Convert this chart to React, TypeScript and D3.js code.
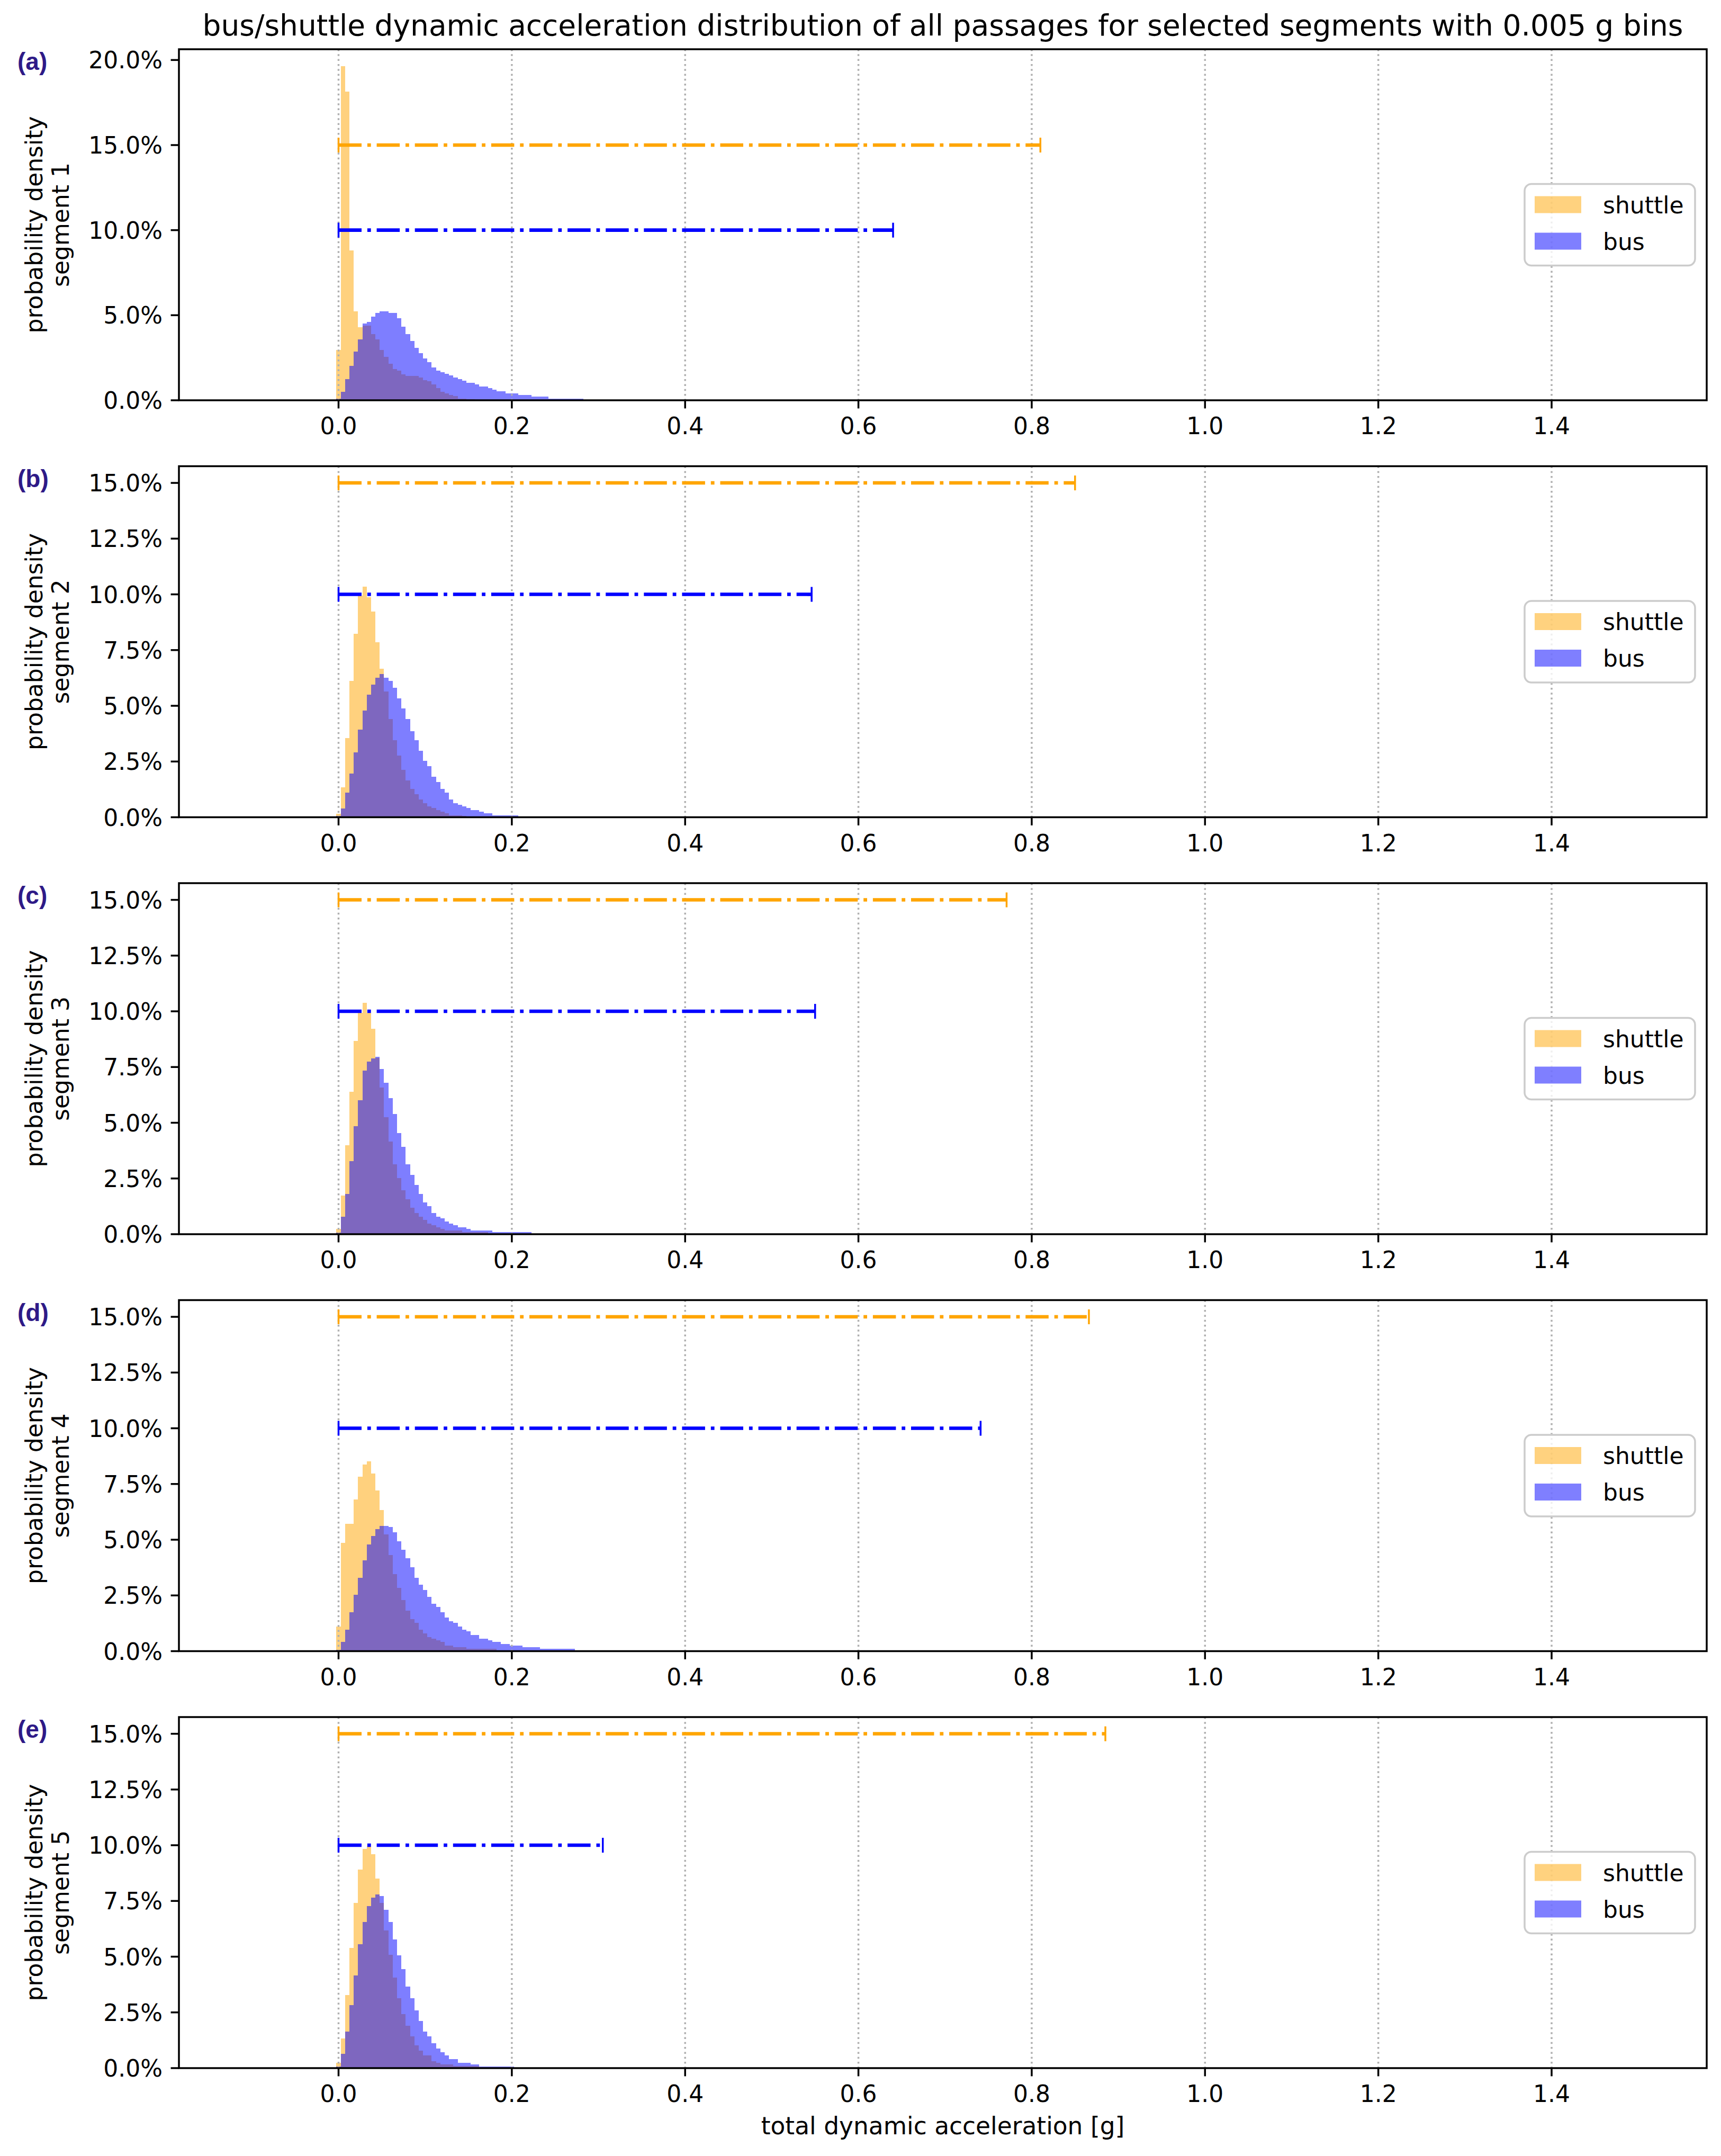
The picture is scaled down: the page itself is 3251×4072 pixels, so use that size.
import * as d3 from 'd3';
import React from 'react';

const W = 3251;
const H = 4072;

// bin centres are k * 0.005 g, values in percent
const binWidth = 0.005;
const xTicks = [0, 0.2, 0.4, 0.6, 0.8, 1.0, 1.2, 1.4];
const yTicksFirst = [0, 5, 10, 15, 20];
const yTicksOther = [0, 2.5, 5, 7.5, 10, 12.5, 15];
const panelLabels = ['(a)', '(b)', '(c)', '(d)', '(e)'];
const seriesNames = ['shuttle', 'bus'];

const shuttleSeg1 = [2.97, 19.65, 18.15, 8.8, 5.22, 4.3, 4.4, 4.4, 3.9, 3.59, 2.97, 2.56, 2.15, 1.85, 1.74, 1.54, 1.44, 1.44, 1.43, 1.33, 1.18, 1.12, 0.92, 0.72, 0.51, 0.41, 0.3, 0.25, 0.1, 0.08, 0.05, 0.05, 0.04, 0.03, 0.03, 0.02, 0.02, 0.02];
const busSeg1 = [0.1, 0.5, 1.23, 2.03, 2.87, 3.59, 4.5, 4.61, 4.93, 5.14, 5.24, 5.24, 5.14, 5.14, 4.82, 4.32, 3.9, 3.49, 3.08, 2.77, 2.47, 2.25, 1.94, 1.74, 1.65, 1.55, 1.45, 1.35, 1.24, 1.14, 1.03, 1.03, 0.92, 0.82, 0.82, 0.73, 0.63, 0.52, 0.52, 0.42, 0.42, 0.42, 0.32, 0.32, 0.32, 0.21, 0.21, 0.21, 0.21, 0.1, 0.1, 0.1, 0.1, 0.1, 0.1, 0.1, 0.1];

const shuttleSeg2 = [0.16, 1.35, 3.54, 6.12, 8.23, 9.95, 10.34, 9.88, 9.24, 7.85, 6.66, 5.65, 4.4, 3.46, 2.76, 2.13, 1.66, 1.27, 1.03, 0.8, 0.64, 0.48, 0.41, 0.33, 0.25, 0.17, 0.09, 0.09, 0.09, 0.05, 0.04, 0.03, 0.03, 0.02];
const busSeg2 = [0.05, 0.4, 1.11, 1.97, 2.92, 3.93, 4.79, 5.49, 5.96, 6.27, 6.43, 6.27, 6.12, 5.8, 5.34, 4.87, 4.4, 3.85, 3.46, 2.99, 2.52, 2.29, 1.82, 1.59, 1.27, 1.11, 0.8, 0.64, 0.56, 0.48, 0.41, 0.33, 0.33, 0.25, 0.17, 0.17, 0.09, 0.09, 0.09, 0.09, 0.09, 0.09];

const shuttleSeg3 = [0.24, 1.73, 3.98, 6.4, 8.67, 9.92, 10.38, 9.92, 9.21, 7.9, 6.57, 5.25, 4.15, 3.13, 2.51, 1.96, 1.57, 1.18, 0.94, 0.79, 0.63, 0.48, 0.4, 0.32, 0.24, 0.16, 0.16, 0.16, 0.16, 0.1, 0.1, 0.1, 0.1, 0.1, 0.1, 0.03, 0.03];
const busSeg3 = [0.08, 0.79, 1.81, 3.29, 4.85, 6.02, 7.35, 7.74, 7.89, 7.97, 7.42, 6.8, 6.1, 5.4, 4.54, 3.91, 3.13, 2.67, 2.2, 1.81, 1.42, 1.26, 0.95, 0.79, 0.71, 0.56, 0.48, 0.4, 0.32, 0.32, 0.24, 0.16, 0.16, 0.16, 0.16, 0.16, 0.1, 0.1, 0.1, 0.1, 0.1, 0.1, 0.1, 0.1, 0.1];

const shuttleSeg4 = [1.11, 4.86, 5.71, 5.71, 6.81, 7.82, 8.37, 8.52, 7.98, 7.2, 6.34, 5.25, 4.31, 3.45, 2.83, 2.29, 1.82, 1.43, 1.27, 0.96, 0.8, 0.64, 0.57, 0.49, 0.41, 0.25, 0.25, 0.18, 0.18, 0.18, 0.1, 0.1, 0.1, 0.1, 0.1, 0.1, 0.1, 0.03, 0.03];
const busSeg4 = [0.05, 0.41, 0.96, 1.74, 2.52, 3.29, 4.08, 4.78, 5.17, 5.48, 5.63, 5.63, 5.56, 5.33, 4.94, 4.55, 4.16, 3.77, 3.3, 2.98, 2.75, 2.44, 2.13, 1.98, 1.74, 1.51, 1.35, 1.27, 1.11, 0.96, 0.88, 0.72, 0.72, 0.57, 0.57, 0.49, 0.41, 0.41, 0.33, 0.33, 0.25, 0.25, 0.25, 0.18, 0.18, 0.18, 0.18, 0.1, 0.1, 0.1, 0.1, 0.1, 0.1, 0.1, 0.1];

const shuttleSeg5 = [0.24, 1.33, 3.29, 5.4, 7.42, 8.9, 9.84, 9.95, 9.6, 8.51, 7.42, 6.17, 5.09, 4.07, 3.13, 2.43, 1.89, 1.42, 1.03, 0.79, 0.56, 0.56, 0.32, 0.24, 0.16, 0.16, 0.16, 0.1, 0.1, 0.1, 0.1, 0.1, 0.1, 0.03, 0.03];
const busSeg5 = [0.08, 0.63, 1.65, 2.83, 4.15, 5.56, 6.56, 7.27, 7.66, 7.8, 7.72, 7.1, 6.56, 5.77, 5.07, 4.44, 3.67, 3.13, 2.59, 2.12, 1.65, 1.42, 1.11, 0.87, 0.71, 0.56, 0.4, 0.4, 0.24, 0.24, 0.24, 0.16, 0.16, 0.08, 0.08, 0.08, 0.08, 0.08, 0.08, 0.08, 0.08];

const shuttleHists = [shuttleSeg1, shuttleSeg2, shuttleSeg3, shuttleSeg4, shuttleSeg5];
const busHists = [busSeg1, busSeg2, busSeg3, busSeg4, busSeg5];

// range bars [0, max] drawn at a fixed level (percent)
const shuttleRangeMax = [0.81, 0.85, 0.771, 0.866, 0.885];
const busRangeMax = [0.64, 0.546, 0.55, 0.741, 0.305];
const shuttleLevel = 15;
const busLevel = 10;

const ORANGE = '#ffa500';
const BLUE = '#0000ff';
const FONT = 'DejaVu Sans';

const left = 338;
const right = 3224;
const panelH = 663;
const firstBottom = 756;
const panelStep = 787.5;

const x = d3.scaleLinear().domain([-0.1842, 1.579]).range([left, right]);

const Bars = ({ values, color, y }) => (
  <g opacity={0.5}>
    {values.map((v, k) => {
      const x0 = x(k * binWidth - binWidth / 2);
      const x1 = x(k * binWidth + binWidth / 2);
      return (
        <rect key={k} x={x0} y={y(v)} width={x1 - x0} height={y(0) - y(v)}
          fill={color} shapeRendering="crispEdges" />
      );
    })}
  </g>
);

const RangeBar = ({ max, level, color, y }) => {
  const yy = y(level);
  return (
    <g stroke={color}>
      <line x1={x(0)} x2={x(max)} y1={yy} y2={yy} strokeWidth={6.6}
        strokeDasharray="43.5 10.9 6.8 10.9" />
      <line x1={x(0)} x2={x(0)} y1={yy - 14} y2={yy + 14} strokeWidth={3.5} />
      <line x1={x(max)} x2={x(max)} y1={yy - 14} y2={yy + 14} strokeWidth={3.5} />
    </g>
  );
};

const Panel = ({ i }) => {
  const bottom = firstBottom + panelStep * i;
  const top = bottom - panelH;
  const shuttle = shuttleHists[i];
  const bus = busHists[i];
  const yMax = 1.05 * Math.max(d3.max(shuttle), d3.max(bus), shuttleLevel, busLevel);
  const y = d3.scaleLinear().domain([0, yMax]).range([bottom, top]);
  const yTicks = i === 0 ? yTicksFirst : yTicksOther;
  const midY = (top + bottom) / 2;
  const legTop = midY - 77;
  const legLeft = right - 22 - 322;

  return (
    <g>
      <Bars values={shuttle} color={ORANGE} y={y} />
      <Bars values={bus} color={BLUE} y={y} />

      {xTicks.map((t) => (
        <line key={t} x1={x(t)} x2={x(t)} y1={top} y2={bottom}
          stroke="#b0b0b0" strokeWidth={3.5} strokeDasharray="3.5 5.8" />
      ))}

      <RangeBar max={shuttleRangeMax[i]} level={shuttleLevel} color={ORANGE} y={y} />
      <RangeBar max={busRangeMax[i]} level={busLevel} color={BLUE} y={y} />

      {/* legend */}
      <rect x={legLeft} y={legTop} width={322} height={154} rx={13}
        fill="white" fillOpacity={0.8} stroke="#cccccc" strokeWidth={3.5} />
      {seriesNames.map((name, j) => (
        <g key={name}>
          <rect x={legLeft + 19} y={legTop + 23 + j * 69} width={88} height={32}
            fill={j === 0 ? ORANGE : BLUE} opacity={0.5} />
          <text x={legLeft + 148} y={legTop + 55 + j * 69} fontSize={44} fill="#000">{name}</text>
        </g>
      ))}

      <rect x={left} y={top} width={right - left} height={panelH}
        fill="none" stroke="#000" strokeWidth={3.5} />

      {xTicks.map((t) => (
        <g key={t}>
          <line x1={x(t)} x2={x(t)} y1={bottom} y2={bottom + 15.4} stroke="#000" strokeWidth={3.5} />
          <text x={x(t)} y={bottom + 64} fontSize={44} textAnchor="middle">{t.toFixed(1)}</text>
        </g>
      ))}
      {yTicks.map((t) => (
        <g key={t}>
          <line x1={left - 15.4} x2={left} y1={y(t)} y2={y(t)} stroke="#000" strokeWidth={3.5} />
          <text x={left - 31} y={y(t) + 16} fontSize={44} textAnchor="end">{t.toFixed(1) + '%'}</text>
        </g>
      ))}

      <text transform={`translate(80,${midY}) rotate(-90)`} fontSize={44} textAnchor="middle">
        probability density
      </text>
      <text transform={`translate(130,${midY}) rotate(-90)`} fontSize={44} textAnchor="middle">
        {`segment ${i + 1}`}
      </text>

      <text x={33} y={top + 39} fontSize={46} fontWeight="bold"
        fontFamily="Liberation Sans" fill="#2e1a87">{panelLabels[i]}</text>
    </g>
  );
};

export default function App() {
  return (
    <svg width={W} height={H} fontFamily={FONT}
      style={{ position: 'absolute', left: 0, top: 0, background: '#fff' }}>
      <rect width={W} height={H} fill="#fff" />
      <text x={(left + right) / 2} y={67} fontSize={55} textAnchor="middle">
        bus/shuttle dynamic acceleration distribution of all passages for selected segments with 0.005 g bins
      </text>
      {panelLabels.map((_, i) => <Panel key={i} i={i} />)}
      <text x={(left + right) / 2} y={4031} fontSize={45.5} textAnchor="middle">
        total dynamic acceleration [g]
      </text>
    </svg>
  );
}
